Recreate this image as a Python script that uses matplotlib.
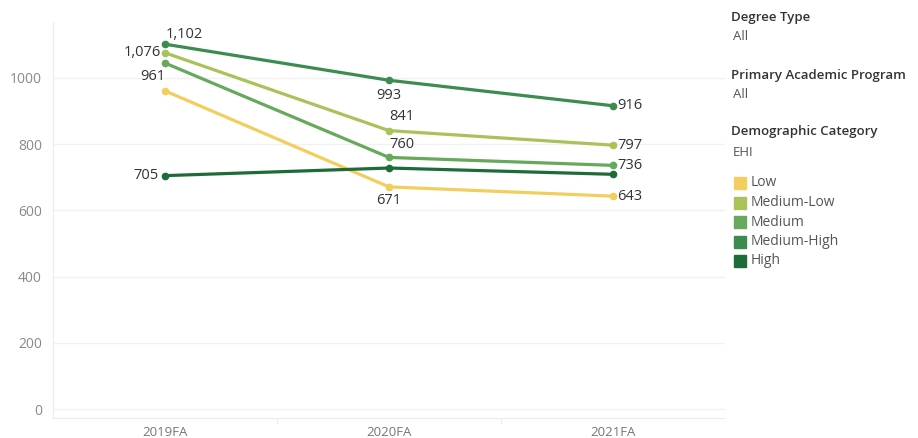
import matplotlib
matplotlib.use("Agg")
import matplotlib.pyplot as plt
from matplotlib.patches import Rectangle

plt.rcParams['font.family'] = ['Open Sans', 'DejaVu Sans']

terms = ["2019FA", "2020FA", "2021FA"]
categories = ["Low", "Medium-Low", "Medium", "Medium-High", "High"]
low = [961, 671, 643]
medium_low = [1076, 841, 797]
medium = [1045, 760, 736]
medium_high = [1102, 993, 916]
high = [705, 728, 709]
series = [low, medium_low, medium, medium_high, high]
colors = ["#F2CE5E", "#A9C25A", "#66A95A", "#3D8B4F", "#1D6B38"]
yticks = [0, 200, 400, 600, 800, 1000]

# label placement per (series index, point index): (dx px, dy px, ha)
label_pos = {
    (3, 0): (1, 10, 'left'),
    (1, 0): (-4, 0, 'right'),
    (0, 0): (0, 14, 'right'),
    (4, 0): (-6, 0, 'right'),
    (3, 1): (0, -15, 'center'),
    (1, 1): (0, 14, 'left'),
    (2, 1): (0, 13, 'left'),
    (0, 1): (0, -14, 'center'),
    (3, 2): (4, 0, 'left'),
    (1, 2): (4, 0, 'left'),
    (2, 2): (4, 0, 'left'),
    (0, 2): (4, 0, 'left'),
}

fig = plt.figure(figsize=(9.18, 4.38), dpi=100)
ax = fig.add_axes([53 / 918, 20 / 438, 672 / 918, 396 / 438])

x = list(range(len(terms)))
for i, (vals, c) in enumerate(zip(series, colors)):
    ax.plot(x, vals, color=c, lw=2.3, marker='o', ms=4.5, zorder=3,
            solid_capstyle='round')

for (si, pi), (dx, dy, ha) in label_pos.items():
    v = series[si][pi]
    ax.annotate(f"{v:,}", (x[pi], v), xytext=(dx, dy), textcoords='offset pixels',
                ha=ha, va='center', fontsize=10.5, color='#333333', zorder=5)

ax.set_xlim(-0.5, 2.5)
ax.set_ylim(-27, 1169)
ax.set_yticks(yticks)
ax.set_yticklabels([str(t) for t in yticks], color='#8a8a8a', fontsize=10)
ax.set_xticks(x)
ax.set_xticklabels(terms, color='#777777', fontsize=9.5)
ax.tick_params(axis='y', length=0, pad=8)
ax.tick_params(axis='x', length=0, pad=6)
ax.set_xticks([0.5, 1.5], minor=True)
ax.tick_params(axis='x', which='minor', length=4, color='#e8e8e8', direction='out')
ax.grid(axis='y', color='#f0f0f0', lw=1)
ax.set_axisbelow(True)
for s in ['top', 'right']:
    ax.spines[s].set_visible(False)
for s in ['left', 'bottom']:
    ax.spines[s].set_color('#ececec')

# legend / filter panel
W, H = 918, 438
def ft(px, py, s, **kw):
    fig.text(px / W, 1 - py / H, s, va='center', ha='left', **kw)

ft(731, 17, "Degree Type", fontsize=9.5, fontweight='semibold', color='#333333')
ft(733, 37, "All", fontsize=9.5, color='#555555')
ft(731, 75, "Primary Academic Program", fontsize=9.5, fontweight='semibold', color='#333333')
ft(733, 95, "All", fontsize=9.5, color='#555555')
ft(731, 132, "Demographic Category", fontsize=9.5, fontweight='semibold', color='#333333')
ft(733, 153, "EHI", fontsize=9.5, color='#555555')
for k, (cat, c) in enumerate(zip(categories, colors)):
    yc = 183 + k * 19.5
    fig.patches.append(Rectangle((734 / W, 1 - (yc + 6) / H), 12 / W, 12 / H,
                                 transform=fig.transFigure, color=c))
    ft(751, yc, cat, fontsize=10, color='#555555')

fig.savefig("out.png", dpi=100)
